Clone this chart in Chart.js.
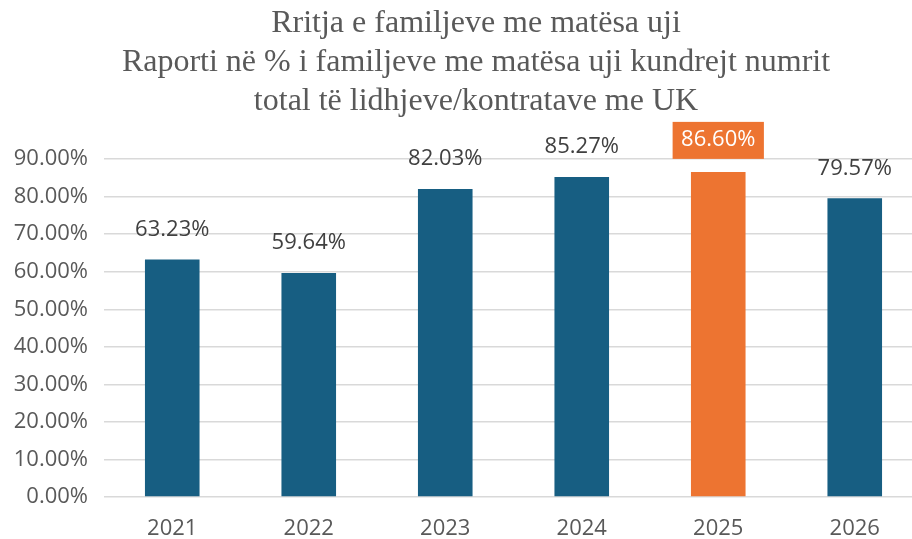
<!DOCTYPE html>
<html>
<head>
<meta charset="utf-8">
<script src="https://cdn.jsdelivr.net/npm/chart.js@4"></script>
<style>
  html, body { margin: 0; padding: 0; background: #fff; }
  #wrap { width: 912px; height: 539px; overflow: hidden; }
  #box { width: 952px; height: 539px; }
</style>
</head>
<body>
<div id="wrap"><div id="box"><canvas id="barChart"></canvas></div></div>
<script>
// chart data
var years = ["2021", "2022", "2023", "2024", "2025", "2026"];
var ratioValues = [63.23, 59.64, 82.03, 85.27, 86.60, 79.57];
var titleLines = [
  "Rritja e familjeve me matësa uji",
  "Raporti në % i familjeve me matësa uji kundrejt numrit",
  "total të lidhjeve/kontratave me UK"
];
var highlightYear = "2025";

var blue = "#175e82";
var orange = "#ed7431";

var barColors = years.map(function (y) {
  return y === highlightYear ? orange : blue;
});

// draws the value labels above each bar, boxed one for the highlighted year
var valueLabels = {
  id: "valueLabels",
  afterDatasetsDraw: function (chart) {
    var c = chart.ctx;
    var meta = chart.getDatasetMeta(0);
    c.save();
    c.font = "22px 'Open Sans'";
    c.textAlign = "center";
    c.textBaseline = "middle";
    meta.data.forEach(function (bar, i) {
      var txt = ratioValues[i].toFixed(2) + "%";
      var y = bar.y - 30;
      if (years[i] === highlightYear) {
        y = bar.y - 32;
        var w = c.measureText(txt).width + 17;
        c.fillStyle = orange;
        c.fillRect(bar.x - w / 2, y - 18, w, 37);
        c.fillStyle = "#ffffff";
      } else {
        c.fillStyle = "#404040";
      }
      c.fillText(txt, bar.x, y);
    });
    c.restore();
  }
};

var ctx = document.getElementById("barChart").getContext("2d");
var myChart = new Chart(ctx, {
  type: "bar",
  data: {
    labels: years,
    datasets: [{
      data: ratioValues,
      backgroundColor: barColors,
      barPercentage: 0.4,
      categoryPercentage: 1
    }]
  },
  options: {
    responsive: true,
    maintainAspectRatio: false,
    animation: false,
    layout: { padding: 0 },
    plugins: {
      legend: { display: false },
      tooltip: { enabled: false },
      title: {
        display: true,
        text: titleLines,
        color: "#595959",
        font: { family: "'Liberation Serif'", size: 32, weight: "normal", lineHeight: 1.22 },
        padding: { top: 4, bottom: 38 }
      }
    },
    scales: {
      x: {
        afterFit: function (scale) { scale.height = 42; },
        grid: { display: false, drawTicks: false },
        border: { display: false },
        ticks: { color: "#595959", font: { family: "'Open Sans'", size: 22 }, padding: 19 }
      },
      y: {
        min: 0,
        max: 90,
        afterFit: function (scale) { scale.width = 104; },
        grid: { color: "#d9d9d9", lineWidth: 1.5, drawTicks: false },
        border: { display: false },
        ticks: {
          stepSize: 10,
          padding: 16,
          color: "#595959",
          font: { family: "'Open Sans'", size: 22 },
          callback: function (v) { return v.toFixed(2) + "%"; }
        }
      },
      // empty right axis, only reserves the right margin
      yRight: {
        position: "right",
        afterFit: function (scale) { scale.width = 29; },
        grid: { display: false, drawTicks: false },
        border: { display: false },
        ticks: { display: false }
      }
    }
  },
  plugins: [valueLabels]
});
</script>
</body>
</html>
